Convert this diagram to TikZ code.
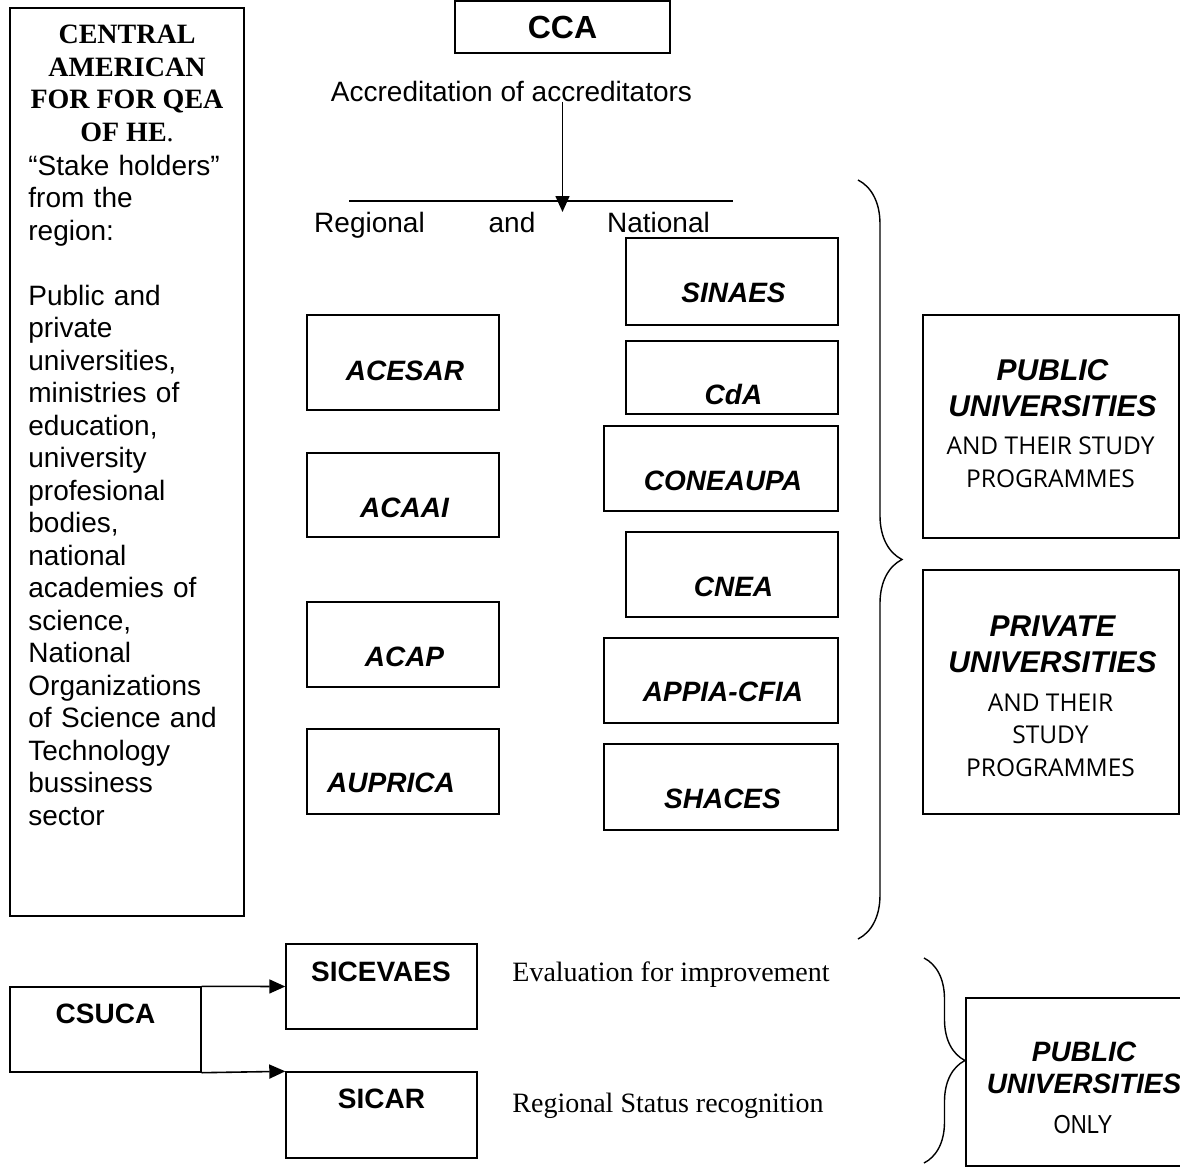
\documentclass[tikz,border=0pt]{standalone}
\usepackage{fontspec}
\setmainfont{Liberation Sans}
\newfontfamily\serifrm{Liberation Serif}
\newfontfamily\progsf{Open Sans}
\newfontfamily\narrowsf[FakeStretch=0.85]{Liberation Sans}
\usetikzlibrary{arrows.meta,fit,decorations.pathreplacing}

\tikzset{
  box/.style={draw, line width=0.7pt, inner sep=0pt},
  txt/.style={inner sep=0pt, font=\fontsize{14}{16.25}\selectfont},
  lab/.style={inner sep=0pt, anchor=base, font=\fontsize{14}{16.25}\selectfont\bfseries\itshape},
  unilab/.style={inner sep=0pt, anchor=north, align=center, font=\fontsize{15}{18}\selectfont\bfseries\itshape},
  prog/.style={inner sep=0pt, anchor=north, align=center, font=\fontsize{12.25}{16.25}\selectfont\progsf},
  arr/.style={-{Triangle[length=8pt,width=7pt]}, line width=0.8pt},
  curly/.style={decorate, decoration={brace, amplitude=#1}, line width=0.7pt}
}

\begin{document}
\begin{tikzpicture}[x=0.5pt,y=-0.5pt]
\useasboundingbox (0,0) rectangle (1180,1168);

% stake holders
\node[box, fit={(10,8) (244,916)}] (stake) {};
\node[txt, anchor=north, align=center, font=\fontsize{14}{16.25}\selectfont\serifrm\bfseries] (stakeT) at (127,25)
  {CENTRAL\\ AMERICAN\\ FOR FOR QEA\\ OF HE{\mdseries .}};
\node[txt, anchor=north west, align=left, text width=102pt] (stakeL) at (28,154.5)
  {``Stake holders''\\ from the\\ region:\\[16.25pt] Public and\\ private\\ universities,\\ ministries of\\ education,\\ university\\ profesional\\ bodies,\\ national\\ academies of\\ science,\\ National\\ Organizations\\ of Science and\\ Technology\\ bussiness\\ sector};

% CCA on top
\node[box, minimum width=107.5pt, minimum height=26pt, font=\fontsize{16}{19}\selectfont\bfseries] (cca) at (562.5,27) {CCA};
\node[txt, anchor=base] (accr) at (511.5,101) {Accreditation of accreditators};
\coordinate (tip) at (562.5,212);
\draw[arr] (accr.south -| cca.south) -- (tip);
\draw[line width=0.7pt] (349,201) -- (733,201);

\node[txt, anchor=base] (reg) at (369.5,232) {Regional};
\node[txt, anchor=base] (and) at (512,232) {and};
\node[txt, anchor=base] (nat) at (658.5,232) {National};

% regional agencies
\node[box, fit={(307,315) (499,410)}] (acesar) {};
\node[box, fit={(307,453) (499,537)}] (acaai) {};
\node[box, fit={(307,602) (499,687)}] (acap) {};
\node[box, fit={(307,729) (499,814)}] (auprica) {};
\node[lab] (acesarT) at (405,380) {ACESAR};
\node[lab] (acaaiT) at (404.5,517) {ACAAI};
\node[lab] (acapT) at (404.5,666) {ACAP};
\node[lab] (aupricaT) at (391,792) {AUPRICA};

% national agencies
\node[box, fit={(626,238) (838,325)}] (sinaes) {};
\node[box, fit={(626,341) (838,414)}] (cda) {};
\node[box, fit={(604,426) (838,511)}] (coneaupa) {};
\node[box, fit={(626,532) (838,617)}] (cnea) {};
\node[box, fit={(604,638) (838,723)}] (appia) {};
\node[box, fit={(604,744) (838,830)}] (shaces) {};
\node[lab] (sinaesT) at (733.5,302) {SINAES};
\node[lab] (cdaT) at (733.5,404) {CdA};
\node[lab] (coneaupaT) at (723,490) {CONEAUPA};
\node[lab] (cneaT) at (733.5,596) {CNEA};
\node[lab] (appiaT) at (723,701) {APPIA-CFIA};
\node[lab] (shacesT) at (722.5,808) {SHACES};

% brace to the universities
\coordinate (brtop) at (858,180);
\coordinate (brbot) at (858,939);
\draw[curly=22pt] (brtop) -- (brbot);

\node[box, fit={(923,315) (1179,538)}] (pub) {};
\node[unilab] (pubT) at (1052.5,359.5) {PUBLIC\\ UNIVERSITIES};
\node[prog] (pubS) at (1050.5,436.5) {AND THEIR STUDY\\ PROGRAMMES};
\node[box, fit={(923,570) (1179,814)}] (priv) {};
\node[unilab] (privT) at (1052.5,615.5) {PRIVATE\\ UNIVERSITIES};
\node[prog] (privS) at (1050.5,693.5) {AND THEIR\\ STUDY\\ PROGRAMMES};

% CSUCA systems
\node[box, fit={(10,987) (201,1072)}] (csuca) {};
\node[box, fit={(286,944) (477,1029)}] (sicevaes) {};
\node[box, fit={(286,1072) (477,1158)}] (sicar) {};
\node[txt, anchor=base, font=\fontsize{14}{16.25}\selectfont\bfseries] (csucaT) at (105.5,1023) {CSUCA};
\node[txt, anchor=base, font=\fontsize{14}{16.25}\selectfont\bfseries] (sicevaesT) at (381,981) {SICEVAES};
\node[txt, anchor=base, font=\fontsize{14}{16.25}\selectfont\bfseries] (sicarT) at (381.5,1108) {SICAR};
\draw[arr] (csuca.north east) -- (sicevaes.west);
\draw[arr] (csuca.south east) -- (sicar.north west);

\node[txt, anchor=base west, font=\fontsize{14}{16.25}\selectfont\serifrm] (evalT) at (512,981) {Evaluation for improvement};
\node[txt, anchor=base west, font=\fontsize{14}{16.25}\selectfont\serifrm] (statT) at (512,1112) {Regional Status recognition};

\coordinate (bstop) at (924,958);
\coordinate (bsbot) at (924,1163);
\draw[curly=20.5pt] (bstop) -- (bsbot);

\node[box, fit={(966,998) (1192,1166)}] (only) {};
\node[unilab, font=\fontsize{14}{16}\selectfont\bfseries\itshape] (onlyT) at (1084,1042) {PUBLIC\\ UNIVERSITIES};
\node[txt, anchor=base, font=\fontsize{13}{16}\selectfont\narrowsf] (onlyS) at (1083,1133) {ONLY};
\end{tikzpicture}
\end{document}
